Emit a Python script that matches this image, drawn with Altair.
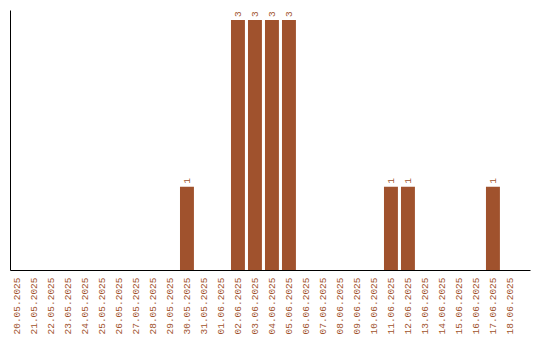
import altair as alt
import pandas as pd

dates = [
    "20.05.2025", "21.05.2025", "22.05.2025", "23.05.2025", "24.05.2025",
    "25.05.2025", "26.05.2025", "27.05.2025", "28.05.2025", "29.05.2025",
    "30.05.2025", "31.05.2025", "01.06.2025", "02.06.2025", "03.06.2025",
    "04.06.2025", "05.06.2025", "06.06.2025", "07.06.2025", "08.06.2025",
    "09.06.2025", "10.06.2025", "11.06.2025", "12.06.2025", "13.06.2025",
    "14.06.2025", "15.06.2025", "16.06.2025", "17.06.2025", "18.06.2025",
]
counts = [0, 0, 0, 0, 0, 0, 0, 0, 0, 0,
          1, 0, 0, 3, 3, 3, 3, 0, 0, 0,
          0, 0, 1, 1, 0, 0, 0, 0, 1, 0]

df = pd.DataFrame({"date": dates, "count": counts})

COLOR = "#A0522D"
FONT = "Liberation Mono"

x = alt.X(
    "date:N",
    sort=dates,
    scale=alt.Scale(paddingInner=0.18, paddingOuter=0.385, align=0),
    axis=alt.Axis(
        title=None, ticks=False, labelAngle=-90, labelAlign="right",
        labelBaseline="middle", labelPadding=7, labelColor=COLOR,
        labelFont=FONT, labelFontSize=9.5, domainColor="black",
        domainWidth=1, labelOverlap=False,
    ),
)
y = alt.Y(
    "count:Q",
    scale=alt.Scale(domain=[0, 3.12], nice=False, zero=True),
    axis=alt.Axis(title=None, labels=False, ticks=False, grid=False,
                  domainColor="black", domainWidth=1),
)

bars = alt.Chart(df).mark_bar(color=COLOR).encode(x=x, y=y)

labels = alt.Chart(df).transform_filter("datum.count > 0").mark_text(
    angle=270, align="left", baseline="middle", dx=3,
    color=COLOR, font=FONT, fontSize=9.5,
).encode(x=alt.X("date:N", sort=dates), y="count:Q", text="count:Q")

chart = (
    alt.layer(bars, labels)
    .properties(
        width=520, height=260,
        autosize=alt.AutoSizeParams(type="none"),
        padding={"left": 10, "top": 10, "right": 10, "bottom": 70},
    )
    .configure_view(stroke=None)
)

chart.save("out.html", embed_options={"renderer": "svg", "actions": False})
